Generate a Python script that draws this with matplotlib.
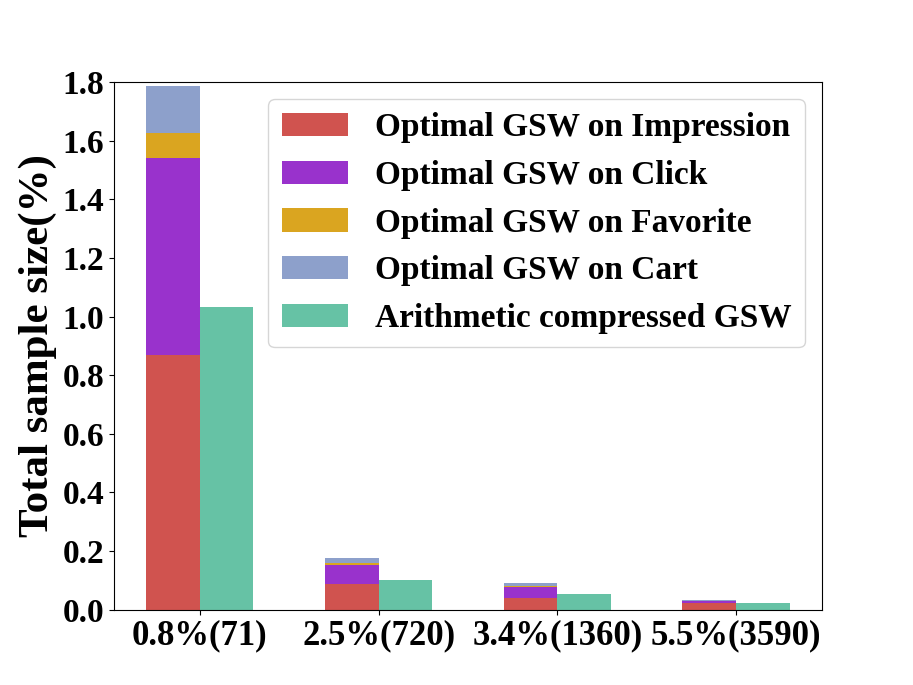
import matplotlib.pyplot as plt
import numpy as np

plt.rcParams['font.family'] = 'Liberation Serif'
plt.rcParams['font.weight'] = 'bold'

groups = ['0.8%(71)', '2.5%(720)', '3.4%(1360)', '5.5%(3590)']
impression = [0.870, 0.086, 0.041, 0.021]
click = [0.672, 0.065, 0.035, 0.007]
favorite = [0.084, 0.009, 0.006, 0.002]
cart = [0.162, 0.016, 0.008, 0.004]
compressed = [1.032, 0.102, 0.055, 0.021]
yticks = [0.0, 0.2, 0.4, 0.6, 0.8, 1.0, 1.2, 1.4, 1.6, 1.8]

colors = ['#d0534f', '#9932cc', '#daa520', '#8da0cb', '#66c2a5']
labels = ['Optimal GSW on Impression', 'Optimal GSW on Click',
          'Optimal GSW on Favorite', 'Optimal GSW on Cart',
          'Arithmetic compressed GSW']

fig, ax = plt.subplots(figsize=(9.13, 6.85), dpi=100)
x = np.arange(len(groups))
w = 0.3

bottom = np.zeros(len(groups))
for vals, c, lab in zip([impression, click, favorite, cart], colors[:4], labels[:4]):
    ax.bar(x - w / 2, vals, w, bottom=bottom, color=c, label=lab)
    bottom += np.array(vals)
ax.bar(x + w / 2, compressed, w, color=colors[4], label=labels[4])

ax.set_ylim(0, 1.8)
ax.set_yticks(yticks)
ax.set_yticklabels(['%.1f' % v for v in yticks], fontsize=24, fontweight='bold')
ax.set_xticks(x)
ax.set_xticklabels(groups, fontsize=25, fontweight='bold')
ax.set_ylabel('Total sample size(%)', fontsize=31, fontweight='bold')
ax.legend(loc='upper right', prop={'size': 24, 'weight': 'bold'})

plt.savefig('out.png')
